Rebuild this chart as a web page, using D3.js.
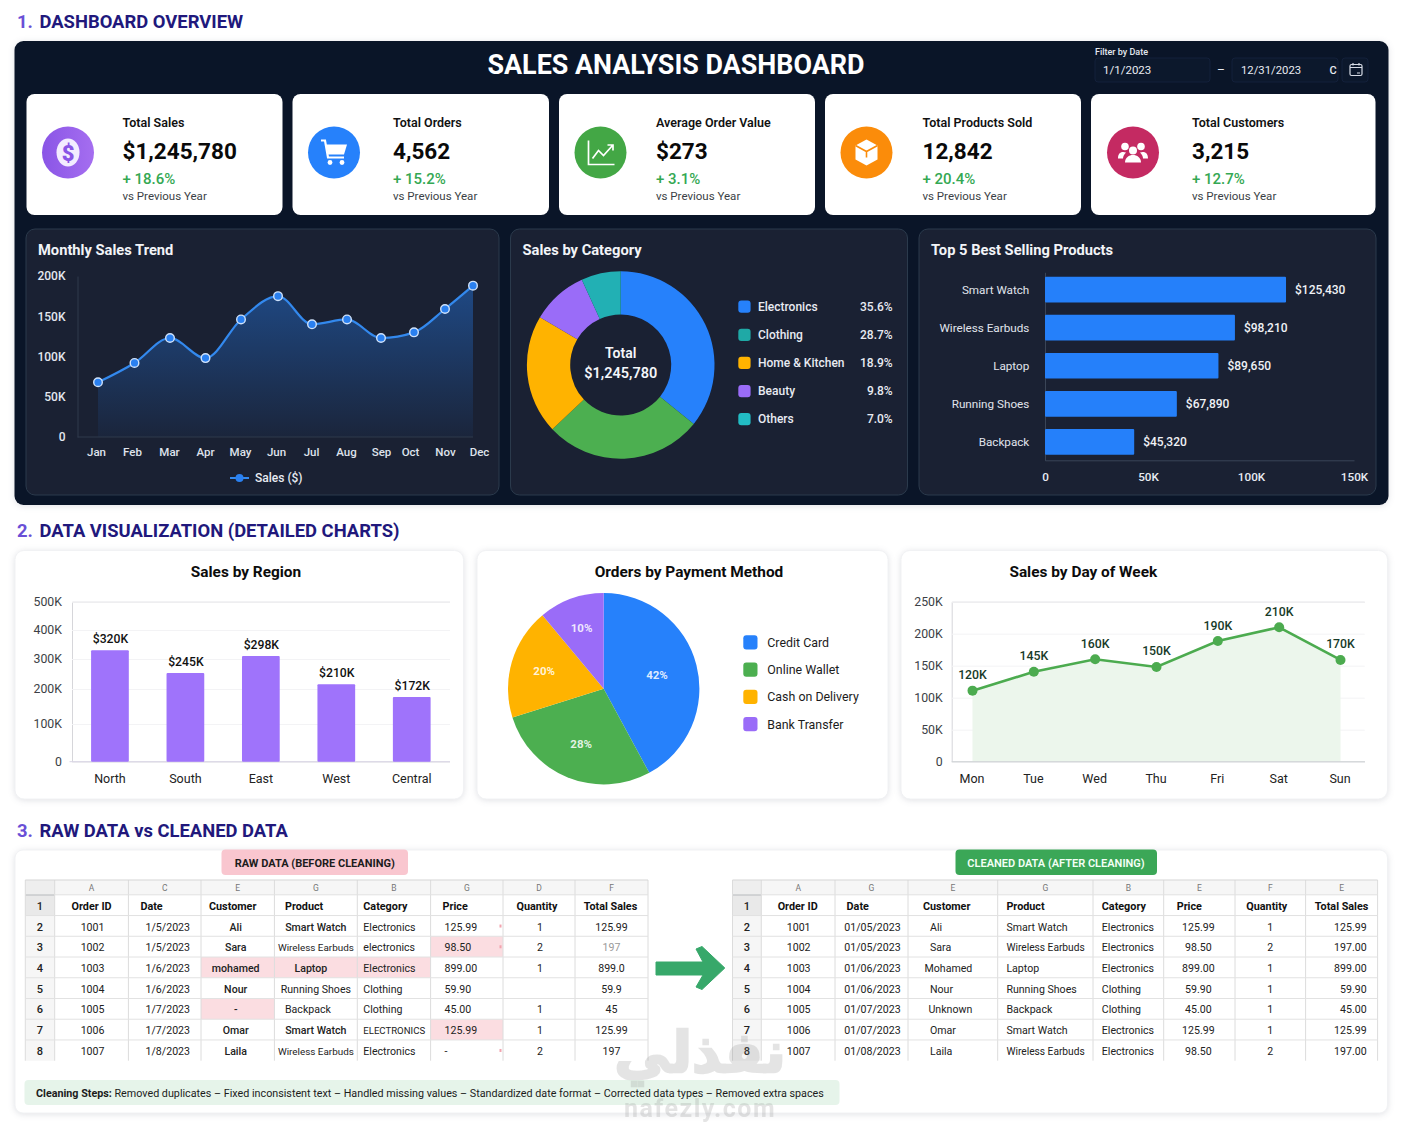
<!DOCTYPE html>
<html>
<head>
<meta charset="utf-8">
<title>Sales Analysis Dashboard</title>
<script src="https://cdn.jsdelivr.net/npm/d3@7"></script>
<style>
	html, body { margin: 0; padding: 0; background: #fff; }
	svg { display: block; font-family: Roboto, sans-serif; }
	.soft { filter: drop-shadow(0 1px 3px rgba(40, 50, 80, .14)); }
</style>
</head>
<body>
<script>

// KPI cards
const kpiTitles = ['Total Sales', 'Total Orders', 'Average Order Value', 'Total Products Sold', 'Total Customers']
const kpiValues = ['$1,245,780', '4,562', '$273', '12,842', '3,215']
const kpiChanges = ['+ 18.6%', '+ 15.2%', '+ 3.1%', '+ 20.4%', '+ 12.7%']

// Monthly sales trend
const months = ['Jan', 'Feb', 'Mar', 'Apr', 'May', 'Jun', 'Jul', 'Aug', 'Sep', 'Oct', 'Nov', 'Dec']
const monthlySales = [68000, 92000, 123000, 98000, 146000, 175000, 140000, 146000, 123000, 130000, 159000, 188000]
const monthlyTicks = [0, 50000, 100000, 150000, 200000]

// Sales by category, slices as drawn and legend as printed
const categories = ['Electronics', 'Clothing', 'Home & Kitchen', 'Beauty', 'Others']
const categorySlices = [35.8, 27.2, 20.5, 9.7, 6.8]
const categoryLabels = ['35.6%', '28.7%', '18.9%', '9.8%', '7.0%']

// Top products, bars as drawn and labels as printed
const products = ['Smart Watch', 'Wireless Earbuds', 'Laptop', 'Running Shoes', 'Backpack']
const productSales = [117000, 92200, 84200, 64000, 43300]
const productLabels = ['$125,430', '$98,210', '$89,650', '$67,890', '$45,320']
const productTicks = [0, 50000, 100000, 150000]

// Sales by region
const regions = ['North', 'South', 'East', 'West', 'Central']
const regionSales = [330000, 253000, 310000, 216000, 177000]
const regionLabels = ['$320K', '$245K', '$298K', '$210K', '$172K']
const regionTicks = [0, 100000, 200000, 300000, 400000, 500000]

// Payment methods
const payments = ['Credit Card', 'Online Wallet', 'Cash on Delivery', 'Bank Transfer']
const paymentSlices = [42.1, 28.05, 18.8, 11.05]
const paymentLabels = ['42%', '28%', '20%', '10%']

// Day of week
const days = ['Mon', 'Tue', 'Wed', 'Thu', 'Fri', 'Sat', 'Sun']
const daySales = [111000, 140500, 160000, 148000, 188500, 210000, 159000]
const dayLabels = ['120K', '145K', '160K', '150K', '190K', '210K', '170K']
const dayTicks = [0, 50000, 100000, 150000, 200000, 250000]

// Tables
const tableHeader = ['Order ID', 'Date', 'Customer', 'Product', 'Category', 'Price', 'Quantity', 'Total Sales']
const rawLetters = ['A', 'C', 'E', 'G', 'B', 'G', 'D', 'F']
const rawRows = [
	['1001', '1/5/2023', 'Ali', 'Smart Watch', 'Electronics', '125.99', '1', '125.99'],
	['1002', '1/5/2023', 'Sara', 'Wireless Earbuds', 'electronics', '98.50', '2', '197'],
	['1003', '1/6/2023', 'mohamed', 'Laptop', 'Electronics', '899.00', '1', '899.0'],
	['1004', '1/6/2023', 'Nour', 'Running Shoes', 'Clothing', '59.90', '', '59.9'],
	['1005', '1/7/2023', '-', 'Backpack', 'Clothing', '45.00', '1', '45'],
	['1006', '1/7/2023', 'Omar', 'Smart Watch', 'ELECTRONICS', '125.99', '1', '125.99'],
	['1007', '1/8/2023', 'Laila', 'Wireless Earbuds', 'Electronics', '-', '2', '197']
]
const cleanLetters = ['A', 'G', 'E', 'G', 'B', 'E', 'F', 'E']
const cleanRows = [
	['1001', '01/05/2023', 'Ali', 'Smart Watch', 'Electronics', '125.99', '1', '125.99'],
	['1002', '01/05/2023', 'Sara', 'Wireless Earbuds', 'Electronics', '98.50', '2', '197.00'],
	['1003', '01/06/2023', 'Mohamed', 'Laptop', 'Electronics', '899.00', '1', '899.00'],
	['1004', '01/06/2023', 'Nour', 'Running Shoes', 'Clothing', '59.90', '1', '59.90'],
	['1005', '01/07/2023', 'Unknown', 'Backpack', 'Clothing', '45.00', '1', '45.00'],
	['1006', '01/07/2023', 'Omar', 'Smart Watch', 'Electronics', '125.99', '1', '125.99'],
	['1007', '01/08/2023', 'Laila', 'Wireless Earbuds', 'Electronics', '98.50', '2', '197.00']
]
// flagged raw cells: row index, column index
const rawFlagged = [[1, 5], [2, 2], [2, 3], [2, 4], [4, 2], [5, 5]]

const cleaningSteps = 'Removed duplicates – Fixed inconsistent text – Handled missing values – Standardized date format – Corrected data types – Removed extra spaces'

// layout and colours, kept apart from the data
const BLUE = '#2681fb', GREEN = '#4caf50', YELLOW = '#ffb300', PURPLE = '#9a6cf8', TEAL = '#22b0b4'
const categoryColors = [BLUE, GREEN, YELLOW, PURPLE, TEAL]
const legendColors = [BLUE, '#1fa9a6', YELLOW, PURPLE, '#22bcc4']
const paymentColors = [BLUE, GREEN, YELLOW, PURPLE]
const paymentLabelRadius = [55, 60, 62, 65]

const svg = d3.select('body').append('svg').attr('width', 1402).attr('height', 1122)

const defs = svg.append('defs')
const areaGrad = defs.append('linearGradient').attr('id', 'areaGrad').attr('x1', 0).attr('x2', 0).attr('y1', 0).attr('y2', 1)
areaGrad.append('stop').attr('offset', 0).attr('stop-color', '#2474dc').attr('stop-opacity', .48)
areaGrad.append('stop').attr('offset', 1).attr('stop-color', '#2474dc').attr('stop-opacity', .05)
const coinGrad = defs.append('linearGradient').attr('id', 'coinGrad').attr('x1', 0).attr('x2', 1)
coinGrad.append('stop').attr('offset', 0).attr('stop-color', '#8a55e6')
coinGrad.append('stop').attr('offset', 1).attr('stop-color', '#a56ef0')

//small helper for every loose piece of text
function txt(g, x, y, s, size, fill, weight = 400, anchor = 'start') {
	return g.append('text').attr('x', x).attr('y', y).attr('font-size', size).attr('fill', fill)
		.attr('font-weight', weight).attr('text-anchor', anchor).text(s)
}

function box(g, x0, y0, x1, y1, r, fill, stroke) {
	return g.append('rect').attr('x', x0).attr('y', y0).attr('width', x1 - x0).attr('height', y1 - y0)
		.attr('rx', r).attr('fill', fill).attr('stroke', stroke || 'none')
}

function sectionTitle(y, num, label) {
	const t = svg.append('text').attr('x', 17).attr('y', y).attr('font-size', 18.4).attr('font-weight', 700)
	t.append('tspan').attr('fill', '#6a4fd6').text(num + ' ')
	t.append('tspan').attr('fill', '#21187c').attr('dx', 2).text(label)
}

//restyle what d3.axis gives us
function styleAxis(g, size, fill, domainColor, weight = 400) {
	g.selectAll('text').attr('font-size', size).attr('fill', fill).attr('font-weight', weight).attr('font-family', 'Roboto, sans-serif')
	g.select('.domain').attr('stroke', domainColor)
}

/* ---------- 1. dashboard overview ---------- */

sectionTitle(28, '1.', 'DASHBOARD OVERVIEW')

box(svg, 14.5, 41, 1388.5, 505, 9, '#0a1528').attr('class', 'soft')
txt(svg, 676, 74, 'SALES ANALYSIS DASHBOARD', 26.9, '#fff', 700, 'middle')

//date filter
txt(svg, 1095, 55, 'Filter by Date', 9, '#e4e8f0', 500)
box(svg, 1095, 58, 1210, 82, 3, '#0c182c', '#13203a')
box(svg, 1232, 58, 1338, 82, 3, '#0c182c', '#13203a')
box(svg, 1342, 58, 1368, 82, 3, '#0c182c', '#13203a')
txt(svg, 1103, 74, '1/1/2023', 11.5, '#e8ebf2')
txt(svg, 1221, 74, '–', 12, '#e8ebf2', 400, 'middle')
txt(svg, 1241, 74, '12/31/2023', 11.3, '#e8ebf2')
txt(svg, 1333, 74, 'C', 11, '#e8ebf2', 500, 'middle')
const cal = svg.append('g').attr('transform', 'translate(1356,70)').attr('fill', 'none').attr('stroke', '#d8dce6').attr('stroke-width', 1.2)
cal.append('rect').attr('x', -6).attr('y', -5.5).attr('width', 12).attr('height', 11).attr('rx', 1.5)
cal.append('path').attr('d', 'M-6,-2.5H6M-3,-7V-4.5M3,-7V-4.5M1,3H4')

//KPI cards
const cardEdges = [[26.5, 282.5], [292.5, 549], [559, 815], [825, 1081], [1091, 1375.5]]
const iconX = [68, 334, 600.5, 866.5, 1133]
const textX = [122.5, 393, 656, 922.5, 1192]
const iconColors = ['url(#coinGrad)', '#2681fb', '#43a745', '#fb8c0a', '#c42a62']

kpiTitles.forEach((title, i) => {
	const card = svg.append('g')
	box(card, cardEdges[i][0], 94, cardEdges[i][1], 215, 8, '#fff')
	card.append('circle').attr('cx', iconX[i]).attr('cy', 152.5).attr('r', 26).attr('fill', iconColors[i])
	txt(card, textX[i], 127, title, 12.5, '#111', 600)
	txt(card, textX[i], 158.5, kpiValues[i], 22.5, '#0a0a0a', 700)
	txt(card, textX[i], 184, kpiChanges[i], 15, '#34a853', 500)
	txt(card, textX[i], 200, 'vs Previous Year', 11.5, '#3b3f46')
})

function iconGroup(i) {
	return svg.append('g').attr('transform', 'translate(' + iconX[i] + ',152.5)')
}
const coin = iconGroup(0)
coin.append('ellipse').attr('rx', 11.5).attr('ry', 14).attr('fill', '#f3ecff')
txt(coin, 0, 8, '$', 22, '#8a55e6', 900, 'middle')
const cart = iconGroup(1)
cart.append('path').attr('d', 'M-13,-12H-9L-6,5H10').attr('fill', 'none').attr('stroke', '#fff').attr('stroke-width', 2.2)
cart.append('path').attr('d', 'M-8,-8H13L10,2H-6Z').attr('fill', '#fff')
cart.append('circle').attr('cx', -4).attr('cy', 10).attr('r', 2.4).attr('fill', '#fff')
cart.append('circle').attr('cx', 8).attr('cy', 10).attr('r', 2.4).attr('fill', '#fff')
const trend = iconGroup(2).attr('fill', 'none').attr('stroke', '#fff').attr('stroke-width', 1.7)
trend.append('path').attr('d', 'M-12,-12V12H14')
trend.append('path').attr('d', 'M-8,6L-2,-2L3,3L12,-7M7,-7.5H12.5V-2')
const parcel = iconGroup(3)
parcel.append('path').attr('d', 'M0,-13L11,-7V7L0,13L-11,7V-7Z').attr('fill', '#fff')
parcel.append('path').attr('d', 'M-11,-7L0,-1L11,-7M0,-1V5').attr('fill', 'none').attr('stroke', '#fb8c0a').attr('stroke-width', 1.6)
const people = iconGroup(4).attr('fill', '#fff')
people.append('circle').attr('cx', -8).attr('cy', -6).attr('r', 3.8)
people.append('circle').attr('cx', 8).attr('cy', -6).attr('r', 3.8)
people.append('circle').attr('cx', 0).attr('cy', -2).attr('r', 4)
people.append('path').attr('d', 'M-15,6C-15,-1 -10,-1 -7,0C-9,2 -10,4 -10,6ZM15,6C15,-1 10,-1 7,0C9,2 10,4 10,6Z')
people.append('path').attr('d', 'M-8,10C-8,0 8,0 8,10Z')

//chart panels
function darkPanel(x0, x1, title) {
	box(svg, x0, 229, x1, 495, 9, '#1a2133', '#2b3a4c')
	txt(svg, x0 + 12, 254.5, title, 14.7, '#f2f4f8', 700)
}

/* Monthly Sales Trend */
darkPanel(26, 499, 'Monthly Sales Trend')

//the picture does not space its months evenly, so the scales are piecewise
const monthX = d3.scaleLinear()
	.domain([0, 1, 2, 3, 4, 5, 6, 7, 8, 9, 10, 11])
	.range([98, 134.5, 170, 205.5, 241, 278, 312, 347, 381, 414, 445, 473])
const monthLabelX = d3.scaleLinear()
	.domain([0, 1, 2, 3, 4, 5, 6, 7, 8, 9, 10, 11])
	.range([96, 132, 169, 205, 240, 276, 311, 346, 381, 410, 445, 479])
const monthY = d3.scaleLinear().domain([0, 200000]).range([437, 276])

svg.append('path').attr('d', d3.area().x((d, i) => monthX(i)).y0(monthY(0)).y1(d => monthY(d)).curve(d3.curveMonotoneX)(monthlySales))
	.attr('fill', 'url(#areaGrad)')

svg.append('g').attr('transform', 'translate(77.5,0)')
	.call(d3.axisLeft(monthY).tickValues(monthlyTicks).tickSize(0).tickPadding(12).tickFormat(d => d ? d / 1000 + 'K' : '0'))
	.call(styleAxis, 12, '#e4e8f0', '#2f3a4d', 500)

svg.append('g').attr('transform', 'translate(0,437)')
	.call(d3.axisBottom(monthLabelX).tickValues(d3.range(12)).tickSize(0).tickPadding(11).tickFormat(i => months[i]))
	.call(g => g.select('.domain').remove())
	.call(styleAxis, 11.5, '#dfe3ec', 'none', 500)
svg.append('line').attr('x1', 77.5).attr('x2', 473).attr('y1', 437).attr('y2', 437).attr('stroke', '#2f3a4d')

svg.append('path').attr('d', d3.line().x((d, i) => monthX(i)).y(d => monthY(d)).curve(d3.curveMonotoneX)(monthlySales))
	.attr('fill', 'none').attr('stroke', '#3389ee').attr('stroke-width', 2.2)

svg.append('g').selectAll('circle').data(monthlySales).join('circle')
	.attr('cx', (d, i) => monthX(i)).attr('cy', d => monthY(d)).attr('r', 4.3)
	.attr('fill', '#2a80f0').attr('stroke', '#cfe2fb').attr('stroke-width', 1.4)

svg.append('line').attr('x1', 230).attr('x2', 249).attr('y1', 478).attr('y2', 478).attr('stroke', '#3389ee').attr('stroke-width', 2)
svg.append('circle').attr('cx', 239.5).attr('cy', 478).attr('r', 4).attr('fill', '#2a80f0')
txt(svg, 255, 482, 'Sales ($)', 12, '#e8ebf2', 500)

/* Sales by Category */
darkPanel(510.5, 907.5, 'Sales by Category')

const donut = svg.append('g').attr('transform', 'translate(620.7,365)')
const donutArc = d3.arc().innerRadius(50.5).outerRadius(93.8)
donut.selectAll('path').data(d3.pie().sort(null)(categorySlices)).join('path')
	.attr('d', donutArc).attr('fill', (d, i) => categoryColors[i])
txt(donut, 0, -7, 'Total', 14, '#f4f6fa', 600, 'middle')
txt(donut, 0, 13, '$1,245,780', 14.5, '#f4f6fa', 600, 'middle')

const catLegendY = d3.scalePoint().domain(categories).range([306.5, 419])
const catLegend = svg.append('g').selectAll('g').data(categories).join('g')
	.attr('transform', d => 'translate(0,' + catLegendY(d) + ')')
catLegend.append('rect').attr('x', 738.3).attr('y', -6).attr('width', 12.3).attr('height', 12.3).attr('rx', 3)
	.attr('fill', (d, i) => legendColors[i])
catLegend.append('text').attr('x', 758).attr('y', 4.2).attr('font-size', 12).attr('font-weight', 500).attr('fill', '#e8ebf2').text(d => d)
catLegend.append('text').attr('x', 892.7).attr('y', 4.2).attr('font-size', 12).attr('font-weight', 500).attr('fill', '#e8ebf2')
	.attr('text-anchor', 'end').text((d, i) => categoryLabels[i])

/* Top 5 products */
darkPanel(919, 1376, 'Top 5 Best Selling Products')

const productX = d3.scaleLinear().domain([0, 150000]).range([1045, 1354])
const productY = d3.scaleBand().domain(products).range([271.7, 459.8]).paddingInner(.325).paddingOuter(.13)

svg.append('g').attr('transform', 'translate(0,460.3)')
	.call(d3.axisBottom(productX).tickValues(productTicks).tickSize(0).tickPadding(12).tickFormat(d => d ? d / 1000 + 'K' : '0'))
	.call(styleAxis, 11.7, '#e8ebf2', '#3a4557', 500)

svg.append('g').attr('transform', 'translate(1045,0.6)')
	.call(d3.axisLeft(productY).tickSize(0).tickPadding(15.7))
	.call(styleAxis, 11.7, '#e0e4ec', '#3a4557', 400)

svg.append('g').selectAll('rect').data(productSales).join('rect')
	.attr('x', productX(0)).attr('y', (d, i) => productY(products[i]))
	.attr('width', d => productX(d) - productX(0)).attr('height', productY.bandwidth())
	.attr('rx', 1).attr('fill', '#2580fa')

svg.append('g').selectAll('text').data(productSales).join('text')
	.attr('x', d => productX(d) + 9).attr('y', (d, i) => productY(products[i]) + productY.bandwidth() / 2 + 4.4)
	.attr('font-size', 12).attr('font-weight', 500).attr('fill', '#f0f2f6').text((d, i) => productLabels[i])

/* ---------- 2. detailed charts ---------- */

sectionTitle(537, '2.', 'DATA VISUALIZATION (DETAILED CHARTS)')

function lightCard(x0, x1, title, titleX) {
	box(svg, x0, 550.5, x1, 799, 9, '#fff', '#f1f2f4').attr('class', 'soft')
	txt(svg, titleX, 576.5, title, 15.4, '#0c0c0c', 700, 'middle')
}

/* Sales by Region */
lightCard(15, 463.5, 'Sales by Region', 246)

const regionX = d3.scaleBand().domain(regions).range([76, 445.7]).paddingInner(.5).paddingOuter(.2)
//tick spacing in the picture is uneven, so the value scale is read tick by tick
const regionY = d3.scaleLinear().domain(regionTicks).range([761.7, 724, 689, 659, 630, 601.7])

svg.append('g').attr('transform', 'translate(72,0)')
	.call(d3.axisLeft(regionY).tickValues(regionTicks).tickSize(-378).tickPadding(10).tickFormat(d => d ? d / 1000 + 'K' : '0'))
	.call(g => g.selectAll('.tick line').attr('stroke', '#f3f3f5'))
	.call(styleAxis, 12.3, '#3c3f46', '#d6d6da')
svg.append('line').attr('x1', 69.5).attr('x2', 450).attr('y1', 761.7).attr('y2', 761.7).attr('stroke', '#d8d4e4')

svg.append('g').selectAll('rect').data(regionSales).join('rect')
	.attr('x', (d, i) => regionX(regions[i])).attr('y', d => regionY(d))
	.attr('width', regionX.bandwidth()).attr('height', d => regionY(0) - regionY(d))
	.attr('rx', 1).attr('fill', '#9f73fb')

svg.append('g').selectAll('text').data(regionSales).join('text')
	.attr('x', (d, i) => regionX(regions[i]) + regionX.bandwidth() / 2 + .5).attr('y', d => regionY(d) - 7.5)
	.attr('text-anchor', 'middle').attr('font-size', 12.2).attr('font-weight', 500).attr('fill', '#111')
	.text((d, i) => regionLabels[i])

svg.append('g').attr('transform', 'translate(0,761.7)')
	.call(d3.axisBottom(regionX).tickSize(0).tickPadding(12))
	.call(g => g.select('.domain').remove())
	.call(styleAxis, 12.5, '#222', 'none')

/* Orders by Payment Method */
lightCard(477, 888, 'Orders by Payment Method', 689)

const payPie = svg.append('g').attr('transform', 'translate(603.7,688.7)')
const payArc = d3.arc().innerRadius(0).outerRadius(95.7)
const payData = d3.pie().sort(null)(paymentSlices)
payPie.selectAll('path').data(payData).join('path').attr('d', payArc).attr('fill', (d, i) => paymentColors[i])
payPie.selectAll('text').data(payData).join('text')
	.attr('transform', (d, i) => 'translate(' + d3.arc().innerRadius(paymentLabelRadius[i]).outerRadius(paymentLabelRadius[i]).centroid(d) + ')')
	.attr('dy', '.35em').attr('text-anchor', 'middle').attr('font-size', 11.5).attr('font-weight', 700).attr('fill', '#fff')
	.attr('fill-opacity', .85).text((d, i) => paymentLabels[i])

const payLegendY = d3.scalePoint().domain(payments).range([642.3, 724])
const payLegend = svg.append('g').selectAll('g').data(payments).join('g')
	.attr('transform', d => 'translate(0,' + payLegendY(d) + ')')
payLegend.append('rect').attr('x', 743.3).attr('y', -7).attr('width', 14.2).attr('height', 14.2).attr('rx', 3)
	.attr('fill', (d, i) => paymentColors[i])
payLegend.append('text').attr('x', 767.3).attr('y', 4.5).attr('font-size', 12.4).attr('fill', '#1c1c1c').text(d => d)

/* Sales by Day of Week */
lightCard(901, 1387.5, 'Sales by Day of Week', 1083.3)

const dayX = d3.scalePoint().domain(days).range([972.5, 1340.5])
const dayY = d3.scaleLinear().domain([0, 250000]).range([761.7, 601.7])

svg.append('g').attr('transform', 'translate(951.7,0)')
	.call(d3.axisLeft(dayY).tickValues(dayTicks).tickSize(-413).tickPadding(9).tickFormat(d => d ? d / 1000 + 'K' : '0'))
	.call(g => g.selectAll('.tick line').attr('stroke', '#f3f3f5'))
	.call(styleAxis, 12.3, '#3c3f46', '#d6d6da')

svg.append('path').attr('d', d3.area().x((d, i) => dayX(days[i])).y0(dayY(0)).y1(d => dayY(d))(daySales))
	.attr('fill', '#ecf6ec')

svg.append('g').attr('transform', 'translate(-1,761.7)')
	.call(d3.axisBottom(dayX).tickSize(0).tickPadding(12))
	.call(g => g.select('.domain').attr('d', 'M952.7,0H1366'))
	.call(styleAxis, 12.5, '#222', '#cfd3d6')

svg.append('path').attr('d', d3.line().x((d, i) => dayX(days[i])).y(d => dayY(d))(daySales))
	.attr('fill', 'none').attr('stroke', '#4cab4f').attr('stroke-width', 2.6)

svg.append('g').selectAll('circle').data(daySales).join('circle')
	.attr('cx', (d, i) => dayX(days[i])).attr('cy', d => dayY(d)).attr('r', 5).attr('fill', '#4cab4f')

svg.append('g').selectAll('text').data(daySales).join('text')
	.attr('x', (d, i) => dayX(days[i])).attr('y', d => dayY(d) - 11.5)
	.attr('text-anchor', 'middle').attr('font-size', 12.3).attr('font-weight', 500).attr('fill', '#173a28')
	.text((d, i) => dayLabels[i])

/* ---------- 3. raw vs cleaned ---------- */

sectionTitle(837, '3.', 'RAW DATA vs CLEANED DATA')

box(svg, 15, 850, 1387.5, 1113, 8, '#fff', '#f1f2f4').attr('class', 'soft')

box(svg, 221.5, 849.5, 408, 875, 4, '#f9c6cf')
txt(svg, 314.7, 866.5, 'RAW DATA (BEFORE CLEANING)', 11, '#1c1c1c', 700, 'middle')
box(svg, 955.5, 849.5, 1157, 875, 4, '#3ba757')
txt(svg, 1056, 866.5, 'CLEANED DATA (AFTER CLEANING)', 11, '#f4fff6', 600, 'middle')

const tableRowY = d3.scaleLinear().domain([0, 8]).range([894.8, 1060.7])

function drawTable(o) {
	const g = svg.append('g')
	const e = o.edges, left = e[0], right = e[e.length - 1]
	const colX = (spec, c) => spec[0] == 'l' ? e[c + 1] + spec[1] : spec[0] == 'r' ? e[c + 2] - spec[1] : (e[c + 1] + e[c + 2]) / 2 + spec[1]
	const anchor = spec => spec[0] == 'l' ? 'start' : spec[0] == 'r' ? 'end' : 'middle'

	//column letters and row numbers strip
	box(g, left, 880, right, tableRowY(0), 0, '#f6f6f6')
	box(g, left, tableRowY(0), e[1], tableRowY(8), 0, '#f6f6f6')
	box(g, left, tableRowY(0), e[1], tableRowY(1), 0, '#e9e9e9')
	box(g, left, 880, e[1], tableRowY(0), 0, '#eeeeee')
	g.append('line').attr('x1', left).attr('x2', e[1]).attr('y1', tableRowY(0)).attr('y2', tableRowY(0)).attr('stroke', '#a9adb2').attr('stroke-width', 1.4)

	//flagged cells
	g.selectAll('rect.flag').data(o.flagged).join('rect').attr('class', 'flag')
		.attr('x', d => e[d[1] + 1]).attr('y', d => tableRowY(d[0] + 1))
		.attr('width', d => e[d[1] + 2] - e[d[1] + 1]).attr('height', tableRowY(1) - tableRowY(0))
		.attr('fill', '#fbdde1')

	//grid
	g.selectAll('line.v').data(e).join('line').attr('class', 'v')
		.attr('x1', d => d).attr('x2', d => d).attr('y1', 880).attr('y2', tableRowY(8)).attr('stroke', '#dcdcdc')
	g.selectAll('line.h').data(d3.range(0, 8)).join('line').attr('class', 'h')
		.attr('x1', left).attr('x2', right).attr('y1', d => tableRowY(d)).attr('y2', d => tableRowY(d)).attr('stroke', '#e2e2e2')
	g.append('line').attr('x1', left).attr('x2', right).attr('y1', 880).attr('y2', 880).attr('stroke', '#d5d5d5')

	//letters
	g.selectAll('text.letter').data(o.letters).join('text').attr('class', 'letter')
		.attr('x', (d, c) => (e[c + 1] + e[c + 2]) / 2).attr('y', 890.5).attr('text-anchor', 'middle')
		.attr('font-size', 8.5).attr('fill', '#777').text(d => d)

	//row numbers
	g.selectAll('text.num').data(d3.range(8)).join('text').attr('class', 'num')
		.attr('x', (e[0] + e[1]) / 2).attr('y', d => tableRowY(d) + 15).attr('text-anchor', 'middle')
		.attr('font-size', 11).attr('font-weight', 500).attr('fill', '#222').text(d => d + 1)

	//header
	g.selectAll('text.head').data(tableHeader).join('text').attr('class', 'head')
		.attr('x', (d, c) => colX(o.headAlign[c], c)).attr('y', tableRowY(0) + 15)
		.attr('text-anchor', (d, c) => anchor(o.headAlign[c]))
		.attr('font-size', 10.8).attr('font-weight', 700).attr('fill', '#111').text(d => d)

	//cells
	const cells = o.rows.flatMap((row, r) => row.map((value, c) => ({ value, r, c })))
	g.selectAll('text.cell').data(cells).join('text').attr('class', 'cell')
		.attr('x', d => {
			const over = o.cellOverride(d)
			return colX(over || o.cellAlign[d.c], d.c)
		})
		.attr('y', d => tableRowY(d.r + 1) + 15)
		.attr('text-anchor', d => anchor(o.cellOverride(d) || o.cellAlign[d.c]))
		.attr('font-size', d => o.cellSize(d)).attr('font-weight', d => o.cellWeight(d)).attr('fill', d => o.cellFill(d)).text(d => d.value)
	return g
}

const raw = drawTable({
	edges: [25.3, 54.7, 128.4, 201, 274.4, 357.3, 430.6, 503, 575, 648],
	letters: rawLetters,
	rows: rawRows,
	flagged: rawFlagged,
	headAlign: [['c', 0], ['l', 12], ['l', 8], ['l', 10.6], ['l', 6], ['l', 12], ['c', -2], ['c', -1]],
	cellAlign: [['c', 1], ['r', 11], ['c', -2], ['c', 0], ['l', 6], ['l', 14], ['c', 1], ['c', 0]],
	cellOverride: d => d.value == 'Backpack' ? ['l', 10.6] : d.value == 'Laptop' ? ['c', -5] : null,
	cellSize: d => d.value == 'Wireless Earbuds' ? 9.9 : d.value == 'ELECTRONICS' ? 9.6 : 10.6,
	cellWeight: d => (d.c == 2 || (d.c == 3 && (d.value == 'Smart Watch' || d.value == 'Laptop'))) ? 500 : 400,
	cellFill: d => (d.r == 1 && d.c == 7) ? '#9a9a9a' : '#222'
})

//small red marks at the edge of the price column
const priceMarks = [0, 1, 6]
raw.selectAll('rect.mark').data(priceMarks).join('rect').attr('class', 'mark')
	.attr('x', 499.5).attr('y', d => tableRowY(d + 1) + 9).attr('width', 2).attr('height', 3).attr('fill', '#f2a3ae')

drawTable({
	edges: [732.5, 761.3, 835, 908, 997.7, 1093, 1163.7, 1235, 1305.6, 1377.6],
	letters: cleanLetters,
	rows: cleanRows,
	flagged: [],
	headAlign: [['c', -0.5], ['l', 11.6], ['l', 15], ['l', 8.7], ['l', 8.8], ['l', 13], ['c', -3.5], ['c', 0]],
	cellAlign: [['c', 0.5], ['c', 1], ['l', 22], ['l', 8.7], ['l', 8.8], ['c', -1], ['c', 0], ['r', 11]],
	cellOverride: d => d.value == 'Mohamed' ? ['l', 16.5] : d.value == 'Unknown' ? ['l', 20.5] : null,
	cellSize: d => d.value == 'Wireless Earbuds' ? 10.2 : 10.6,
	cellWeight: () => 400,
	cellFill: () => '#222'
})

//arrow between the two tables
svg.append('path')
	.attr('d', 'M656,962H703L696,949L702,946.5L724.8,968L702,989.5L696,987L703,975H656Z')
	.attr('fill', '#37a86a').attr('stroke', '#37a86a').attr('stroke-width', 1).attr('stroke-linejoin', 'round')

//cleaning steps strip
box(svg, 24.5, 1080, 839.5, 1105, 4, '#e6f4ea')
const steps = txt(svg, 36, 1097, '', 10.75, '#1c1c1c')
steps.append('tspan').attr('font-weight', 700).text('Cleaning Steps: ')
steps.append('tspan').text(cleaningSteps)

//watermark
const mark = svg.append('g').attr('opacity', .22).attr('fill', '#8a8a8a')
mark.append('text').attr('x', 700).attr('y', 1072).attr('text-anchor', 'middle').attr('font-size', 56)
	.attr('font-weight', 700).attr('font-family', 'DejaVu Sans').attr('stroke', '#8a8a8a').attr('stroke-width', 2.5).text('نفذلي')
mark.append('text').attr('x', 700).attr('y', 1117).attr('text-anchor', 'middle').attr('font-size', 25)
	.attr('font-weight', 700).attr('letter-spacing', 1.5).text('nafezly.com')

</script>
</body>
</html>
